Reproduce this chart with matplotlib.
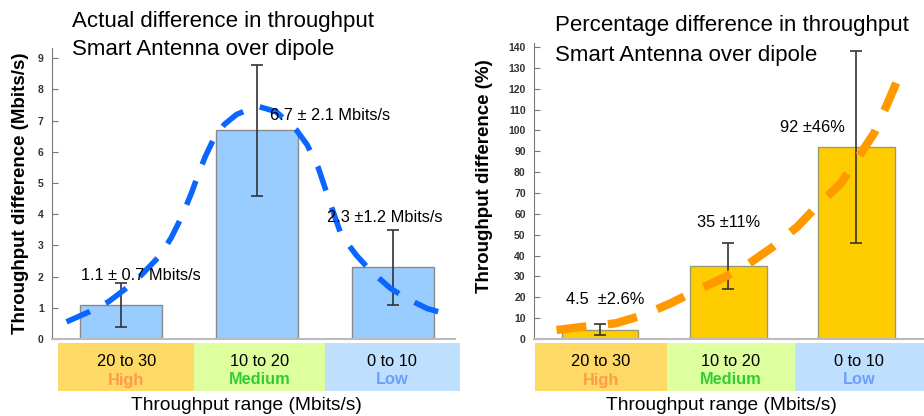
import numpy as np
import matplotlib.pyplot as plt
from matplotlib.patches import Rectangle

plt.rcParams['font.family'] = ['Liberation Sans', 'DejaVu Sans']

# data
ranges = ['20 to 30', '10 to 20', '0 to 10']
levels = ['High', 'Medium', 'Low']
level_colors = ['#FF9A4A', '#33CC33', '#6E9EFF']
box_colors = ['#FFD966', '#DDFF9E', '#BFDFFF']

actual = [1.1, 6.7, 2.3]
actual_err = [0.7, 2.1, 1.2]
actual_lbl = ['1.1 \u00b1 0.7 Mbits/s', '6.7 \u00b1 2.1 Mbits/s', '2.3 \u00b11.2 Mbits/s']

pct = [4.5, 35, 92]
pct_err = [2.6, 11, 46]
pct_lbl = ['4.5  \u00b12.6%', '35 \u00b111%', '92 \u00b146%']

# hand drawn trend curves
trend_a_x = [-0.40, -0.23, -0.09, 0.04, 0.15, 0.29, 0.37, 0.45, 0.52, 0.57, 0.62, 0.68, 0.76, 0.85,
             1.00, 1.14, 1.29, 1.37, 1.45, 1.50, 1.56, 1.62, 1.73, 1.83, 1.98, 2.10, 2.25, 2.39]
trend_a_y = [0.55, 0.88, 1.20, 1.63, 2.05, 2.69, 3.25, 3.95, 4.70, 5.30, 5.85, 6.40, 6.88, 7.20,
             7.47, 7.29, 6.70, 6.22, 5.50, 4.85, 4.08, 3.33, 2.69, 2.21, 1.63, 1.30, 0.98, 0.80]
trend_p_x = [-0.34, -0.13, 0.12, 0.34, 0.55, 0.76, 0.96, 1.15, 1.35, 1.54, 1.69, 1.88, 2.01, 2.14, 2.24, 2.34]
trend_p_y = [4.3, 5.9, 7.5, 11.5, 17.1, 23.5, 29.2, 35.6, 44.2, 53.8, 63.4, 74.6, 86.6, 98.6, 112.2, 126.6]

W, H = 924, 416
fig = plt.figure(figsize=(W / 100, H / 100), dpi=100)

def px(x0, y0, x1, y1):
    return [x0 / W, 1 - y1 / H, (x1 - x0) / W, (y1 - y0) / H]

ax1 = fig.add_axes(px(52, 48, 455, 339))
ax2 = fig.add_axes(px(534, 43, 924, 339))

xs = np.arange(3)

def style(ax, ylim, yticks):
    ax.set_ylim(0, ylim)
    ax.set_yticks(yticks)
    for s in ['top', 'right']:
        ax.spines[s].set_visible(False)
    ax.spines['left'].set_color('#777777')
    ax.spines['bottom'].set_color('#BBBBBB')
    ax.spines['bottom'].set_linewidth(1.5)
    ax.set_xticks([])
    ax.tick_params(axis='y', direction='in', length=4, color='#777777',
                   labelsize=7.5, labelcolor='#333333', pad=6)
    for t in ax.get_yticklabels():
        t.set_fontweight('bold')

# left panel
ax1.bar(xs, actual, width=0.6, color='#99CCFF', edgecolor='#8A8A8A', linewidth=1)
ax1.errorbar(xs, actual, yerr=actual_err, fmt='none', ecolor='#333333', elinewidth=1.2, capsize=4, capthick=1.2)
ax1.plot(trend_a_x, trend_a_y, color='#0A66FF', lw=4, dashes=(4.6, 3.2), solid_capstyle='butt')
ax1.set_xlim(-0.507, 2.456)
style(ax1, 9.33, range(0, 10))
ax1.set_ylabel('Throughput difference (Mbits/s)', fontsize=13.5, fontweight='bold', labelpad=6)
lbl_pos_a = [(0.15, 2.05), (1.54, 7.18), (1.94, 3.9)]
for (lx, ly), t in zip(lbl_pos_a, actual_lbl):
    ax1.text(lx, ly, t, fontsize=11.8, ha='center', va='center')

# right panel
ax2.bar(xs, pct, width=0.6, color='#FFCC00', edgecolor='#9A9A70', linewidth=1)
ax2.errorbar(xs, pct, yerr=pct_err, fmt='none', ecolor='#333333', elinewidth=1.2, capsize=4, capthick=1.2)
ax2.plot(trend_p_x, trend_p_y, color='#FF9900', lw=6, dashes=(3.6, 2.6), solid_capstyle='butt')
ax2.set_xlim(-0.516, 2.53)
style(ax2, 141.9, range(0, 141, 10))
ax2.set_ylabel('Throughput difference (%)', fontsize=13.5, fontweight='bold', labelpad=6)
ax2.yaxis.set_label_coords(-0.105, 0.55)
lbl_pos_p = [(0.04, 18.7), (1.0, 56), (1.66, 101.6)]
for (lx, ly), t in zip(lbl_pos_p, pct_lbl):
    ax2.text(lx, ly, t, fontsize=11.8, ha='center', va='center')

# category boxes under the axes
edges_a = [-0.46, 0.54, 1.5, 2.49]
edges_p = [-0.51, 0.52, 1.52, 2.53]
for ax, edges, ax_h in [(ax1, edges_a, 291), (ax2, edges_p, 296)]:
    tr = ax.get_xaxis_transform()
    y_top = -4 / ax_h
    y_bot = -52 / ax_h
    for i in range(3):
        ax.add_patch(Rectangle((edges[i], y_bot), edges[i + 1] - edges[i], y_top - y_bot,
                               transform=tr, color=box_colors[i], clip_on=False, lw=0))
        xc = (edges[i] + edges[i + 1]) / 2
        ax.text(xc, -22 / ax_h, ranges[i], transform=tr, ha='center', va='center', fontsize=11.8)
        ax.text(xc, -41 / ax_h, levels[i], transform=tr, ha='center', va='center',
                fontsize=11.8, fontweight='bold', color=level_colors[i])

fig.text(246 / W, 1 - 406 / H, 'Throughput range (Mbits/s)', ha='center', va='center', fontsize=13.8)
fig.text(721 / W, 1 - 406 / H, 'Throughput range (Mbits/s)', ha='center', va='center', fontsize=13.8)

fig.text(72 / W, 1 - 22 / H, 'Actual difference in throughput', ha='left', va='center', fontsize=16)
fig.text(72 / W, 1 - 50 / H, 'Smart Antenna over dipole', ha='left', va='center', fontsize=16)
fig.text(555 / W, 1 - 25 / H, 'Percentage difference in throughput', ha='left', va='center', fontsize=16)
fig.text(555 / W, 1 - 55 / H, 'Smart Antenna over dipole', ha='left', va='center', fontsize=16)

fig.savefig('out.png', dpi=100)
